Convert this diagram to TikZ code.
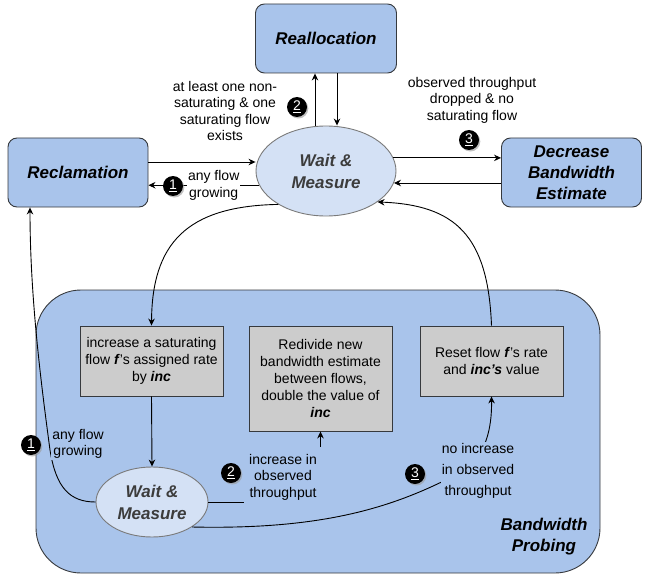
\documentclass[tikz,border=0pt]{standalone}
\usepackage{fontspec}
\setmainfont{Liberation Sans}
\usetikzlibrary{arrows.meta,shapes.geometric,shadows}
\definecolor{boxblue}{HTML}{A9C4EB}
\definecolor{ellblue}{HTML}{D4E1F5}
\definecolor{boxgray}{HTML}{CCCCCC}
\definecolor{edgeline}{HTML}{36393D}
\definecolor{ellline}{HTML}{7A7A7A}
\definecolor{elltext}{HTML}{3C3C3C}
\newcommand{\bi}[1]{\textbf{\textit{#1}}}

\begin{document}
\begin{tikzpicture}[x=1pt, y=-1pt, line width=0.9pt, >={Stealth[length=7pt,width=6.5pt]},
    statebox/.style={rectangle, rounded corners=9pt, draw=edgeline, fill=boxblue, minimum width=140pt, minimum height=69pt, align=center, font=\fontsize{17}{21}\selectfont\bfseries\itshape},
    waitell/.style={ellipse, draw=ellline, fill=ellblue, inner sep=0pt, align=center, text=elltext, font=\fontsize{17}{22}\selectfont\bfseries\itshape},
    stepbox/.style={rectangle, draw=edgeline, fill=boxgray, minimum width=143pt, align=center, font=\fontsize{14}{17}\selectfont},
    lbl/.style={align=center, inner sep=1pt, font=\fontsize{14}{16.5}\selectfont},
    badge/.style={circle, fill=black, text=white, minimum size=20pt, inner sep=0pt, font=\fontsize{14}{14}\selectfont, drop shadow={shadow xshift=1.3pt, shadow yshift=-1.5pt, fill=black!40, opacity=0.6}}]
    \useasboundingbox (0,0) rectangle (645,575);

    \node (probe) [rectangle, rounded corners=45pt, draw=edgeline, fill=boxblue, minimum width=564pt, minimum height=283pt] at (318,431.5) {};
    \node (probetitle) [align=center, font=\fontsize{17}{21}\selectfont\bfseries\itshape] at (544,537) {Bandwidth\\Probing};

    \node (realloc) [statebox, minimum width=141pt] at (326,38.5) {Reallocation};
    \node (reclam) [statebox] at (78,172.5) {Reclamation};
    \node (decrease) [statebox] at (571.5,172.5) {Decrease\\Bandwidth\\Estimate};
    \node (wm1) [waitell, minimum width=140pt, minimum height=90pt] at (326,171) {Wait \&\\Measure};

    \node (incr) [stepbox, minimum height=70pt] at (151.5,361) {increase a saturating\\flow \bi{f}'s assigned rate\\by \bi{inc}};
    \node (redivide) [stepbox, minimum height=105pt] at (320.5,378.5) {Redivide new\\bandwidth estimate\\between flows,\\double the value of\\\bi{inc}};
    \node (reset) [stepbox, minimum height=70pt] at (491.5,361) {Reset flow \bi{f}'s rate\\and \bi{inc's} value};
    \node (wm2) [waitell, minimum width=112pt, minimum height=70pt] at (152,502) {Wait \&\\Measure};

    \draw [->] ([xshift=-11pt]wm1.north) -- ([xshift=-11pt]realloc.south);
    \draw [->] ([xshift=11pt]realloc.south) -- ([xshift=11pt]wm1.north);
    \draw [->] ([yshift=10.5pt]reclam.east) -- ([yshift=10.5pt]reclam.east -| wm1.west);
    \draw [->] (wm1.192) -- (wm1.192 -| reclam.east) node [lbl, pos=0.41, fill=white] {any flow\\growing};
    \draw [->] (wm1.11) -- (wm1.11 -| decrease.west);
    \draw [->] (wm1.-10 -| decrease.west) -- (wm1.-10);

    \node (toplbl2) [lbl] at (225,111) {at least one non-\\saturating \& one\\saturating flow\\exists};
    \node (toplbl3) [lbl] at (472,100) {observed throughput\\dropped \& no\\saturating flow};
    \node (tb1) [badge] at (173,186) {\underline{1}};
    \node (tb2) [badge] at (297,107) {\underline{2}};
    \node (tb3) [badge] at (469,140) {\underline{3}};

    \draw [->] (wm1.215) .. controls (185,206) and (152,245) .. (incr.north);
    \draw [->] (reset.north) .. controls (488,235) and (455,205) .. (wm1.-31);
    \draw [->] (incr.south) -- (wm2.north);

    \draw [->] (wm2.west) .. controls (70,502) and (56,488) .. (50,450) .. controls (42,390) and (30,300) .. ([xshift=-48pt]reclam.south);
    \draw [->] (wm2.east) -| (redivide.south);
    \draw [->] (wm2.-32) .. controls (330,530) and (400,505) .. (465,470) .. controls (485,455) and (492,430) .. (reset.south);

    \node (botlbl1) [lbl, fill=boxblue] at (78,444) {any flow\\growing};
    \node (botlbl2) [lbl, fill=boxblue, inner xsep=5pt, inner ysep=7pt] at (283,477) {increase in\\observed\\throughput};
    \node (botlbl3) [lbl, fill=boxblue, font=\fontsize{14}{21}\selectfont] at (478,471) {no increase\\in observed\\throughput};
    \node (bb1) [badge] at (31,445) {\underline{1}};
    \node (bb2) [badge] at (231,473) {\underline{2}};
    \node (bb3) [badge] at (415,474) {\underline{3}};
\end{tikzpicture}
\end{document}
